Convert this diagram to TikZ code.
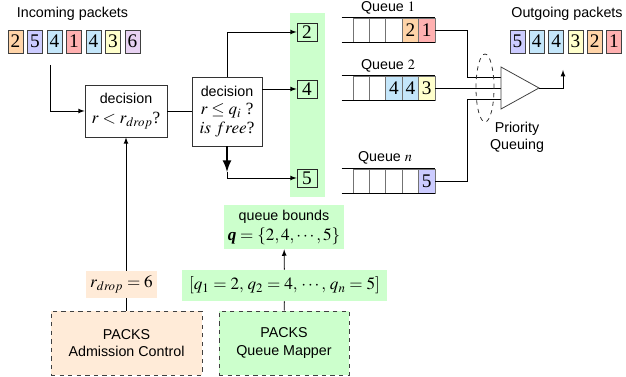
\documentclass[tikz,border=0pt]{standalone}
\usepackage{mathptmx}
\usepackage{fontspec}
\setmainfont{Liberation Serif}
\setsansfont{Liberation Sans}
\usetikzlibrary{arrows,positioning,calc}

\definecolor{bandgreen}{RGB}{204,255,204}
\definecolor{admfill}{RGB}{255,235,216}
\definecolor{pktorange}{RGB}{255,212,168}
\definecolor{pktviolet}{RGB}{204,204,255}
\definecolor{pktblue}{RGB}{196,230,250}
\definecolor{pktred}{RGB}{255,176,176}
\definecolor{pktyellow}{RGB}{255,255,204}
\definecolor{pktpurple}{RGB}{232,210,242}

\tikzset{
	pkt/.style={draw=black!75, minimum width=10.5pt, minimum height=16.1pt, inner sep=0pt, font=\fontsize{13.5}{13.5}\selectfont},
	qcell/.style={draw=black!55, minimum width=11.48pt, minimum height=16.8pt, inner sep=0pt, font=\fontsize{13.5}{13.5}\selectfont},
	bandbox/.style={draw=black!85, minimum width=14pt, minimum height=12.6pt, inner sep=0pt, font=\fontsize{13.5}{13.5}\selectfont},
	decbox/.style={draw=black!80, fill=white, align=center, inner sep=0pt},
	packsbox/.style={draw=black!75, dashed, line width=0.7pt, align=center, font=\sffamily, minimum height=44.8pt},
	mathbox/.style={inner sep=0pt, font=\large},
	lbl/.style={font=\sffamily}
}

\begin{document}
\begin{tikzpicture}[x=0.7pt, y=-0.7pt, line width=0.55pt]
	\useasboundingbox (0,0) rectangle (626,377);
	
	% green band behind the bounds
	\fill[bandgreen] (290,13) rectangle (325,197);
	
	% incoming packets
	\node[lbl] (inlbl) at (72.5,14) {Incoming packets};
	\foreach \v/\c [count=\i] in {2/pktorange,5/pktviolet,4/pktblue,1/pktred,4/pktblue,3/pktyellow,6/pktpurple}
		\node[pkt, fill=\c] (in\i) at ({15.5+19.5*(\i-1)},41.5) {\v};
	\coordinate (instart) at (50,65);
	
	% decisions
	\node[decbox, minimum width=57.4pt, minimum height=36.4pt] (dec1) at (126,111)
		{\sffamily decision\\[2pt] \large $r < r_{drop}$?};
	\node[decbox, minimum width=49pt, minimum height=48.3pt] (dec2) at (227,111.5)
		{\sffamily decision\\[1pt] \large $r \leq q_i$ ?\\[1pt] \large $is\ free$?};
	
	% bounds in the band
	\node[bandbox] (bx2) at (307,32) {2};
	\node[bandbox] (bx4) at (307,89) {4};
	\node[bandbox] (bx5) at (307,178) {5};
	\coordinate (dsplit) at (227,172);
	
	\draw[-latex] (instart) |- (dec1.west);
	\draw (dec1.east) -- (dec1.east -| dec2.west);
	\draw[-latex] (dec2.north) |- (bx2.west);
	\draw[-latex] (dec2.east |- bx4) -- (bx4.west);
	\draw[-latex, line width=1.8pt] (dec2.south) -- (dsplit);
	\draw[-latex] (dsplit) |- (bx5.west);
	
	% queues
	\foreach \q/\y in {a/30,b/88,n/181}{
		\foreach \k in {1,...,5}
			\node[qcell] (\q\k) at ({353+16.4*(\k-0.5)},\y) {};
	}
	\foreach \q/\k/\v/\c in {a/4/2/pktorange, a/5/1/pktred, b/3/4/pktblue, b/4/4/pktblue, b/5/3/pktyellow, n/5/5/pktviolet}
		\node[qcell, fill=\c] (\q\k) at (\q\k) {\v};
	\foreach \q in {a,b,n}{
		\draw ($(\q1.north west)+(-11,0)$) -- (\q5.north east);
		\draw ($(\q1.south west)+(-11,0)$) -- (\q5.south east);
	}
	\node[lbl] (qlbla) at (388,8) {Queue $1$};
	\node[lbl] (qlblb) at (388,66) {Queue $2$};
	\node[lbl] (qlbln) at (385,158) {Queue $n$};
	
	% priority queuing
	\coordinate (pin1) at (501,77);
	\coordinate (pin2) at (501,88);
	\coordinate (pin3) at (501,99);
	\coordinate (pout) at (539,88);
	\coordinate (outarr) at (563,70);
	\draw (a5.east) -| (467,77) -- (pin1);
	\draw (b5.east) -- (pin2);
	\draw (n5.east) -| (467,99) -- (pin3);
	\draw[dashed, black!80] (485,88) ellipse [x radius=6.3pt, y radius=23.8pt];
	\draw[black!75, fill=white] (501,67) -- (pout) -- (501,109) -- cycle;
	\draw[-latex] (pout) -| (outarr);
	\node[lbl, align=center] (pqlbl) at (517,137) {Priority\\Queuing};
	
	% outgoing packets
	\node[lbl] (outlbl) at (567,14) {Outgoing packets};
	\foreach \v/\c [count=\i] in {5/pktviolet,4/pktblue,4/pktblue,3/pktyellow,2/pktorange,1/pktred}
		\node[pkt, fill=\c] (out\i) at ({517.5+19.3*(\i-1)},41.5) {\v};
	
	% packs modules
	\node[packsbox, fill=admfill, minimum width=105.7pt] (adm) at (126.5,343) {PACKS\\Admission Control};
	\node[mathbox, fill=admfill, minimum width=49.7pt, minimum height=18.9pt] (rdrop) at (121.5,284.5) {$r_{drop} = 6$};
	\draw (adm.north) -- (adm.north |- rdrop.south);
	\draw[-latex] (dec1.south |- rdrop.north) -- (dec1.south);
	
	\node[packsbox, fill=bandgreen, minimum width=91pt] (qmap) at (284,343) {PACKS\\Queue Mapper};
	\node[mathbox, fill=bandgreen, minimum width=143.5pt, minimum height=21.7pt] (qlist) at (284.5,285.5)
		{$\left[q_1 = 2,\, q_2 = 4,\, \cdots,\, q_n = 5\right]$};
	\node[fill=bandgreen, align=center, inner sep=0pt, minimum width=84pt, minimum height=30.8pt] (bounds) at (284,227)
		{\sffamily queue bounds\\[2pt] \large $\textbf{\textit{q}} = \{2,4,\cdots,5\}$};
	\draw (qmap) -- (qlist);
	\draw[-latex] (qlist) -- (bounds);
\end{tikzpicture}
\end{document}
